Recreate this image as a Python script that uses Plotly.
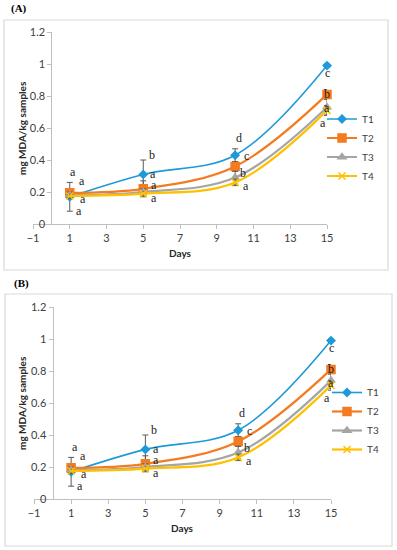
import plotly.graph_objects as go

# ---------------- data ----------------
days = [1, 5, 10, 15]
series_names = ["T1", "T2", "T3", "T4"]

# Panel A
a_T1 = [0.17, 0.31, 0.43, 0.99]
a_T2 = [0.195, 0.22, 0.36, 0.81]
a_T3 = [0.18, 0.20, 0.29, 0.73]
a_T4 = [0.175, 0.19, 0.26, 0.71]
a_T1_err = [0.09, 0.09, 0.04, 0.01]
a_T2_err = [0.02, 0.05, 0.03, 0.03]
a_T3_err = [0.02, 0.02, 0.04, 0.05]
a_T4_err = [0.01, 0.01, 0.02, 0.03]

# Panel B
b_T1 = [0.17, 0.31, 0.43, 0.99]
b_T2 = [0.195, 0.22, 0.36, 0.81]
b_T3 = [0.18, 0.20, 0.29, 0.74]
b_T4 = [0.175, 0.19, 0.26, 0.71]
b_T1_err = [0.09, 0.09, 0.04, 0.01]
b_T2_err = [0.02, 0.05, 0.03, 0.03]
b_T3_err = [0.02, 0.02, 0.04, 0.05]
b_T4_err = [0.01, 0.01, 0.02, 0.03]

# significance letters (x, y in data units)
letter_text = ["a", "a", "a", "a", "b", "a", "a", "a", "d", "c", "b", "a", "c", "b", "a", "a"]
letter_x = [1.2, 1.65, 1.7, 1.5, 5.45, 5.55, 5.58, 5.58, 10.2, 10.6, 10.45, 10.6, 15.0, 15.0, 15.0, 14.8]
letter_y = [0.325, 0.27, 0.155, 0.08, 0.43, 0.31, 0.245, 0.165, 0.54, 0.425, 0.32, 0.24, 0.945, 0.81, 0.725, 0.63]

x_ticks = [-1, 1, 3, 5, 7, 9, 11, 13, 15]
y_ticks = [0, 0.2, 0.4, 0.6, 0.8, 1, 1.2]
y_ticktext = ["0", "0.2", "0.4", "0.6", "0.8", "1", "1.2"]

# ---------------- styles ----------------
colors = ["#1f9ad8", "#f47b20", "#a5a5a5", "#ffc000"]
symbols = ["diamond", "square", "triangle-up", "x-thin"]
msizes = [6, 8, 7, 7]
lwidths = [1.6, 2.2, 2.2, 2.2]
W, H = 397, 550
TICKFONT = dict(family="Lato, Open Sans, sans-serif", size=11, color="#404040")
SERIF = "Liberation Serif, Times New Roman, serif"

panels = [
    dict(vals=[a_T1, a_T2, a_T3, a_T4], errs=[a_T1_err, a_T2_err, a_T3_err, a_T4_err],
         xpx=(33, 327), ypx=(224, 32), y0px=51.4, box=(4, 20, 388, 270),
         label="(A)", label_pos=(19, 9), legend_top=104.5, legend_x=322, days_y=253),
    dict(vals=[b_T1, b_T2, b_T3, b_T4], errs=[b_T1_err, b_T2_err, b_T3_err, b_T4_err],
         xpx=(34, 331), ypx=(499, 307), y0px=52.5, box=(5, 294, 392, 546),
         label="(B)", label_pos=(21, 283), legend_top=378, legend_x=327, days_y=528),
]

fig = go.Figure()
shapes = []
annotations = []
layout = {}

for i, p in enumerate(panels):
    k = "" if i == 0 else str(i + 1)
    xa, ya = "x" + k, "y" + k
    legend_name = "legend" if i == 0 else "legend2"
    for j in range(4):
        fig.add_trace(go.Scatter(
            x=days, y=p["vals"][j], name=series_names[j], xaxis=xa, yaxis=ya,
            mode="lines+markers", legend=legend_name,
            line=dict(color=colors[j], width=lwidths[j], shape="spline", smoothing=1.0),
            marker=dict(symbol=symbols[j], size=msizes[j], color=colors[j],
                        line=dict(color=colors[j], width=1.5)),
            error_y=dict(type="data", array=p["errs"][j], visible=True,
                         color="#5a5a5a", thickness=1, width=3),
            cliponaxis=False,
        ))
    xdom = [p["xpx"][0] / W, p["xpx"][1] / W]
    ydom = [1 - p["ypx"][0] / H, 1 - p["ypx"][1] / H]
    layout["xaxis" + k] = dict(
        domain=xdom, range=[-1, 15], anchor=ya, tickvals=x_ticks,
        showgrid=False, zeroline=False, showline=True, linecolor="#bfbfbf", linewidth=1,
        ticks="outside", ticklen=4, tickcolor="#bfbfbf", tickfont=TICKFONT, automargin=False,
    )
    layout["yaxis" + k] = dict(
        domain=ydom, range=[0, 1.2], anchor="free", position=p["y0px"] / W,
        tickvals=y_ticks, ticktext=y_ticktext,
        showgrid=False, zeroline=False, showline=True, linecolor="#bfbfbf", linewidth=1,
        ticks="outside", ticklen=4, tickcolor="#bfbfbf", tickfont=TICKFONT, automargin=False,
    )
    layout[legend_name] = dict(
        x=p["legend_x"] / W, y=1 - p["legend_top"] / H, xanchor="left", yanchor="top",
        font=dict(family="Lato, Open Sans, sans-serif", size=10, color="#404040"),
        bgcolor="rgba(0,0,0,0)", itemwidth=30, tracegroupgap=0,
    )
    x0, y0, x1, y1 = p["box"]
    shapes.append(dict(type="rect", xref="paper", yref="paper",
                       x0=x0 / W, x1=x1 / W, y0=1 - y0 / H, y1=1 - y1 / H,
                       line=dict(color="#d9d9d9", width=1.2), layer="below"))
    annotations.append(dict(text="<b>" + p["label"] + "</b>", xref="paper", yref="paper",
                            x=p["label_pos"][0] / W, y=1 - p["label_pos"][1] / H,
                            xanchor="center", yanchor="middle",
                            showarrow=False, font=dict(family=SERIF, size=11, color="#000")))
    annotations.append(dict(text="<b>mg MDA/kg samples</b>", xref="paper", yref="paper",
                            x=22 / W, y=(ydom[0] + ydom[1]) / 2, textangle=-90,
                            xanchor="center", yanchor="middle",
                            showarrow=False, font=dict(family="Lato, Open Sans, sans-serif", size=10, color="#262626")))
    annotations.append(dict(text="<b>Days</b>", xref="paper", yref="paper",
                            x=(xdom[0] + xdom[1]) / 2, y=1 - p["days_y"] / H,
                            xanchor="center", yanchor="middle",
                            showarrow=False, font=dict(family="Lato, Open Sans, sans-serif", size=10, color="#262626")))
    for t, lx, ly in zip(letter_text, letter_x, letter_y):
        annotations.append(dict(text=t, x=lx, y=ly, xref=xa, yref=ya, showarrow=False,
                                xanchor="center", yanchor="middle",
                                font=dict(family=SERIF, size=12, color="#222")))

fig.update_layout(
    width=W, height=H, margin=dict(l=0, r=0, t=0, b=0, autoexpand=False),
    paper_bgcolor="white", plot_bgcolor="white",
    shapes=shapes, annotations=annotations, showlegend=True,
    **layout,
)
fig.write_html(
    "out.html",
    config={"displayModeBar": False},
    post_script="document.body.style.margin='0';document.body.style.overflow='hidden';",
)
